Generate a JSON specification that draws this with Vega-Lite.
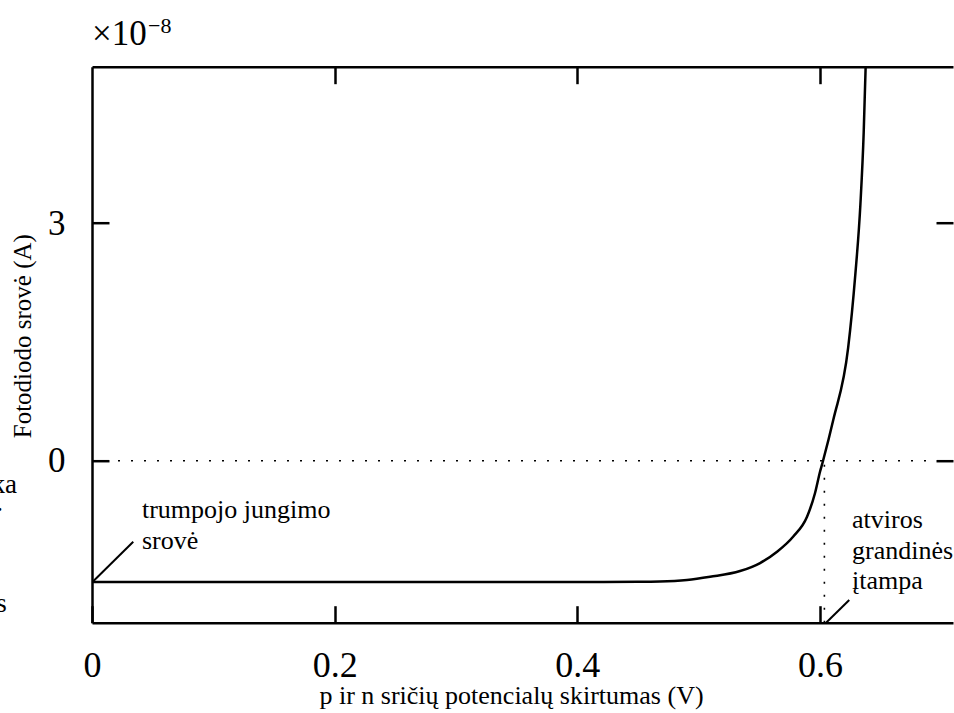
{
  "$schema": "https://vega.github.io/schema/vega-lite/v6.json",
  "width": 861,
  "height": 556,
  "autosize": {"type": "none"},
  "padding": {"left": 92, "top": 66.7, "right": 1, "bottom": 90.3},
  "background": "white",
  "config": {
    "view": {"stroke": null},
    "font": "Liberation Serif",
    "axis": {
      "grid": false,
      "domainColor": "black",
      "tickColor": "black",
      "labelColor": "black",
      "titleColor": "black",
      "labelFont": "Liberation Serif",
      "titleFont": "Liberation Serif",
      "titleFontWeight": "normal"
    }
  },
  "datasets": {
    "curve": [
      {"v": 0, "i": -1.53}, {"v": 0.1, "i": -1.53}, {"v": 0.2, "i": -1.53}, {"v": 0.3, "i": -1.53},
      {"v": 0.4, "i": -1.53}, {"v": 0.45, "i": -1.528}, {"v": 0.468, "i": -1.525}, {"v": 0.4904, "i": -1.506},
      {"v": 0.5094, "i": -1.465}, {"v": 0.5341, "i": -1.393}, {"v": 0.5506, "i": -1.292}, {"v": 0.5646, "i": -1.149},
      {"v": 0.5778, "i": -0.96}, {"v": 0.5893, "i": -0.707}, {"v": 0.5959, "i": -0.408}, {"v": 0.6, "i": -0.139},
      {"v": 0.6025, "i": 0}, {"v": 0.611, "i": 0.52}, {"v": 0.6232, "i": 1.427}, {"v": 0.629, "i": 2.333},
      {"v": 0.6333, "i": 3.241}, {"v": 0.636, "i": 4.146}, {"v": 0.6376, "i": 4.97}, {"v": 0.6379, "i": 5.1}
    ],
    "zeroline": [{"v0": 0, "v1": 0.7096, "i": 0}],
    "voc": [{"v": 0.6036, "i0": -2.045, "i1": 0}],
    "arrows": [
      {"xa": 0.034, "ya": -1.023, "xb": 0.0006, "yb": -1.528},
      {"xa": 0.6241, "ya": -1.759, "xb": 0.605, "yb": -2.045}
    ],
    "notes": [
      {"v": 0.0412, "i": -0.7235, "text": "trumpojo jungimo"},
      {"v": 0.0412, "i": -1.115, "text": "srovė"},
      {"v": 0.6264, "i": -0.85, "text": "atviros"},
      {"v": 0.6264, "i": -1.241, "text": "grandinės"},
      {"v": 0.6264, "i": -1.62, "text": "įtampa"}
    ],
    "cut": [
      {"v": -0.0618, "i": -0.408, "text": "ka"},
      {"v": -0.0734, "i": -0.635, "text": "."},
      {"v": -0.0703, "i": -1.91, "text": "s"}
    ],
    "mult": [{"v": 0, "i": 5.249, "text": "×10"}],
    "expo": [{"v": 0.0462, "i": 5.4, "text": "−8"}]
  },
  "layer": [
    {
      "data": {"name": "curve"},
      "mark": {"type": "line", "color": "black", "strokeWidth": 2.5, "clip": true, "interpolate": "monotone"},
      "encoding": {
        "x": {
          "field": "v", "type": "quantitative",
          "scale": {"domain": [0, 0.7096], "nice": false, "zero": false},
          "axis": {
            "orient": "bottom", "values": [0, 0.2, 0.4, 0.6], "format": "~g",
            "tickSize": -17, "tickWidth": 2.5, "domainWidth": 2.5,
            "labelFontSize": 36, "labelPadding": 71, "labelBaseline": "alphabetic",
            "labelFlush": false, "labelOverlap": false,
            "title": "p ir n sričių potencialų skirtumas (V)", "titleFontSize": 26,
            "titleX": 419, "titleY": 81, "titleBaseline": "alphabetic", "titleAlign": "center"
          }
        },
        "y": {
          "field": "i", "type": "quantitative",
          "scale": {"domain": [-2.045, 4.975], "nice": false, "zero": false},
          "axis": {
            "orient": "left", "values": [0, 3], "format": "d",
            "tickSize": -17, "tickWidth": 2.5, "domainWidth": 2.5,
            "labelFontSize": 35, "labelPadding": 44, "labelFlush": false,
            "title": "Fotodiodo srovė (A)", "titleFontSize": 25, "titleAngle": 270,
            "titleX": -62, "titleY": 269, "titleBaseline": "alphabetic", "titleAlign": "center"
          }
        }
      }
    },
    {
      "data": {"name": "voc"},
      "mark": {"type": "rule", "color": "black", "strokeWidth": 1.6, "strokeDash": [2, 11]},
      "encoding": {
        "x": {
          "field": "v", "type": "quantitative",
          "scale": {"domain": [0, 0.7096], "nice": false, "zero": false},
          "axis": {
            "orient": "top", "values": [0.2, 0.4, 0.6], "labels": false,
            "tickSize": -17, "tickWidth": 2.5, "domainWidth": 2.5, "title": null
          }
        },
        "y": {
          "field": "i0", "type": "quantitative",
          "scale": {"domain": [-2.045, 4.975], "nice": false, "zero": false},
          "axis": {
            "orient": "right", "values": [0, 3], "labels": false, "domain": false,
            "tickSize": -17, "tickWidth": 2.5, "title": null
          }
        },
        "y2": {"field": "i1"}
      }
    },
    {
      "data": {"name": "zeroline"},
      "mark": {"type": "rule", "color": "black", "strokeWidth": 1.6, "strokeDash": [2, 11]},
      "encoding": {
        "x": {"field": "v0", "type": "quantitative", "axis": null},
        "x2": {"field": "v1"},
        "y": {"field": "i", "type": "quantitative", "axis": null}
      }
    },
    {
      "data": {"name": "arrows"},
      "mark": {"type": "rule", "color": "black", "strokeWidth": 2},
      "encoding": {
        "x": {"field": "xa", "type": "quantitative", "axis": null},
        "y": {"field": "ya", "type": "quantitative", "axis": null},
        "x2": {"field": "xb"},
        "y2": {"field": "yb"}
      }
    },
    {
      "data": {"name": "notes"},
      "mark": {"type": "text", "align": "left", "baseline": "alphabetic", "fontSize": 26, "color": "black", "font": "Liberation Serif"},
      "encoding": {
        "x": {"field": "v", "type": "quantitative", "axis": null},
        "y": {"field": "i", "type": "quantitative", "axis": null},
        "text": {"field": "text"}
      }
    },
    {
      "data": {"name": "cut"},
      "mark": {"type": "text", "align": "right", "baseline": "alphabetic", "fontSize": 27, "color": "black", "font": "Liberation Serif"},
      "encoding": {
        "x": {"field": "v", "type": "quantitative", "axis": null},
        "y": {"field": "i", "type": "quantitative", "axis": null},
        "text": {"field": "text"}
      }
    },
    {
      "data": {"name": "mult"},
      "mark": {"type": "text", "align": "left", "baseline": "alphabetic", "fontSize": 35, "color": "black", "font": "Liberation Serif"},
      "encoding": {
        "x": {"field": "v", "type": "quantitative", "axis": null},
        "y": {"field": "i", "type": "quantitative", "axis": null},
        "text": {"field": "text"}
      }
    },
    {
      "data": {"name": "expo"},
      "mark": {"type": "text", "align": "left", "baseline": "alphabetic", "fontSize": 22, "color": "black", "font": "Liberation Serif"},
      "encoding": {
        "x": {"field": "v", "type": "quantitative", "axis": null},
        "y": {"field": "i", "type": "quantitative", "axis": null},
        "text": {"field": "text"}
      }
    }
  ],
  "resolve": {"axis": {"x": "independent", "y": "independent"}}
}
